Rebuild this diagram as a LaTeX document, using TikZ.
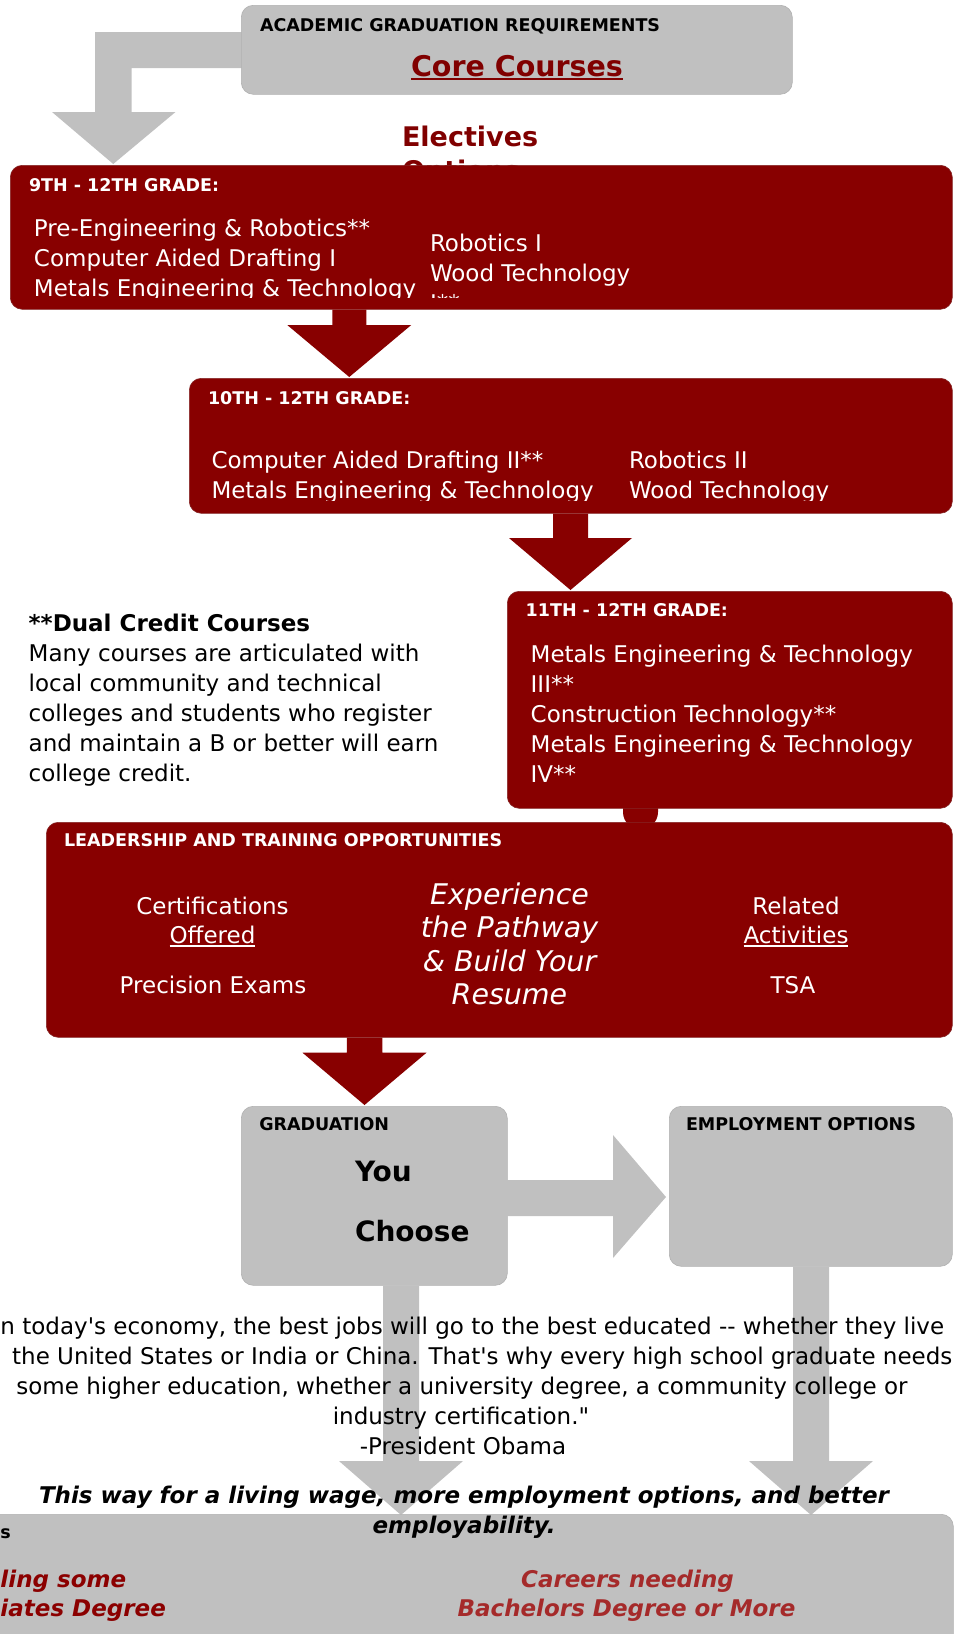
\documentclass[tikz,border=0pt]{standalone}
\usepackage{fontspec}
\setmainfont{DejaVu Sans}
\newfontfamily\qfont{DejaVu Sans}
\usetikzlibrary{calc}
\definecolor{dred}{HTML}{880000}
\definecolor{sgray}{HTML}{C0C0C0}
\definecolor{tred}{HTML}{800000}
\definecolor{bred}{HTML}{A52A2A}
\definecolor{ared}{HTML}{8B0000}
\newcommand\fsz[2]{\fontsize{#1}{#2}\selectfont}
% #1 style, #2 start coord, #3 tip coord, #4 shaft half width, #5 head half width, #6 head length
\newcommand\blkdown[6]{%
  \fill[#1] ($#2+(-#4,0)$) -- ($#3+(-#4,-#6)$) -- ($#3+(-#5,-#6)$) -- #3 -- ($#3+(#5,-#6)$) -- ($#3+(#4,-#6)$) -- ($#2+(#4,0)$) -- cycle;}
\begin{document}
\begin{tikzpicture}[x=1pt,y=-1pt,
  redbox/.style={fill=dred, rounded corners=12pt, draw=dred!70!gray, line width=0.6pt, inner sep=0pt, anchor=north west},
  graybox/.style={fill=sgray, rounded corners=12pt, draw=sgray!92!black, line width=0.6pt, inner sep=0pt, anchor=north west},
  txt/.style={inner sep=0pt, outer sep=0pt, anchor=base west},
  hdr/.style={txt, font=\fsz{17.5}{21}\bfseries},
  body/.style={txt, font=\fsz{23}{30}},
  quote/.style={txt, font=\fsz{23}{30}\qfont},
  wbody/.style={body, text=white},
  whdr/.style={hdr, text=white},
  lead/.style={txt, anchor=base, font=\fsz{23}{30}, text=white},
  ital/.style={txt, anchor=base, font=\fsz{28.5}{33}\itshape, text=white},
  redarrow/.style={fill=dred},
  grayarrow/.style={fill=sgray}
]
\useasboundingbox (0,0) rectangle (956,1634);

% ---------- top: academic requirements ----------
\fill[grayarrow] (250,32) -- (95,32) -- (95,112) -- (52,112) -- (113.25,164) -- (175.5,112) -- (131.5,112) -- (131.5,68) -- (250,68) -- cycle;
\node[graybox, minimum width=551pt, minimum height=89pt] (top) at (241,5) {};
\node[hdr] (acad) at (260,31.5) {ACADEMIC GRADUATION REQUIREMENTS};
\node[txt, anchor=base, font=\fsz{28.5}{34}\bfseries, text=tred] (core) at (517,76) {Core Courses};
\draw[tred, line width=2pt] ($(core.base west)+(0,2.8)$) -- ($(core.base east)+(0,2.8)$);

\node[txt, font=\fsz{27}{33}\bfseries, text=tred] (elec) at (402,146) {Electives};
\node[txt, font=\fsz{27}{33}\bfseries, text=tred] (opts) at (402,180) {Options};

% ---------- 9th - 12th ----------
\node[redbox, minimum width=942pt, minimum height=144pt] (b1) at (10,165) {};
\node[whdr] (h1) at (29,191) {9TH - 12TH GRADE:};
\begin{scope}
  \clip (10,165) rectangle (952,297);
  \node[wbody] (c11) at (34,236) {Pre-Engineering \& Robotics**};
  \node[wbody] (c12) at (34,266) {Computer Aided Drafting I};
  \node[wbody] (c13) at (34,296) {Metals Engineering \& Technology};
  \node[wbody] (c14) at (430,251) {Robotics I};
  \node[wbody] (c15) at (430,281) {Wood Technology};
  \node[wbody] (c16) at (430,311) {I**};
\end{scope}

% arrow 1 -> 2
\coordinate (x1) at (349.25,0);
\coordinate (a1s) at (b1.south -| x1);
\coordinate (a1t) at (349.25,377);
\blkdown{redarrow}{(a1s)}{(a1t)}{17}{62}{52}

% ---------- 10th - 12th ----------
\node[redbox, minimum width=763pt, minimum height=135pt] (b2) at (189,378) {};
\node[whdr] (h2) at (208,404) {10TH - 12TH GRADE:};
\begin{scope}
  \clip (189,378) rectangle (952,500);
  \node[wbody] (c21) at (211.5,468.7) {Computer Aided Drafting II**};
  \node[wbody] (c22) at (211.5,498.7) {Metals Engineering \& Technology};
  \node[wbody] (c23) at (629,468.7) {Robotics II};
  \node[wbody] (c24) at (629,498.7) {Wood Technology};
\end{scope}

% arrow 2 -> 3
\coordinate (x2) at (570.5,0);
\coordinate (a2s) at (b2.south -| x2);
\coordinate (a2t) at (570.5,590);
\blkdown{redarrow}{(a2s)}{(a2t)}{17.5}{61.5}{52}

% ---------- dual credit ----------
\node[txt, font=\fsz{23}{30}\bfseries] (dc) at (28.7,631.7) {**Dual Credit Courses};
\node[body] (d1) at (28.7,661.7) {Many courses are articulated with};
\node[body] (d2) at (28.7,691.7) {local community and technical};
\node[body] (d3) at (28.7,721.7) {colleges and students who register};
\node[body] (d4) at (28.7,751.7) {and maintain a B or better will earn};
\node[body] (d5) at (28.7,781.7) {college credit.};

% ---------- 11th - 12th ----------
\fill[dred] (623,800) -- (623,812) .. controls (623,834) and (658,834) .. (658,812) -- (658,800) -- cycle;
\node[redbox, minimum width=445pt, minimum height=217pt] (b3) at (507,591) {};
\node[whdr] (h3) at (525.7,616.7) {11TH - 12TH GRADE:};
\node[wbody] (c31) at (530.7,662.7) {Metals Engineering \& Technology};
\node[wbody] (c32) at (530.7,692.7) {III**};
\node[wbody] (c33) at (530.7,722.7) {Construction Technology**};
\node[wbody] (c34) at (530.7,752.7) {Metals Engineering \& Technology};
\node[wbody] (c35) at (530.7,782.7) {IV**};

% ---------- leadership ----------
\node[redbox, minimum width=906pt, minimum height=215pt] (b4) at (46,822) {};
\node[whdr] (h4) at (64,846.7) {LEADERSHIP AND TRAINING OPPORTUNITIES};
\node[lead] (l1) at (212.5,914) {Certifications};
\node[lead] (l2) at (212.5,943.3) {Offered};
\draw[white, line width=1.3pt] ($(l2.base west)+(0,2.6)$) -- ($(l2.base east)+(0,2.6)$);
\node[lead] (l3) at (213,993.3) {Precision Exams};
\node[ital] (e1) at (509.5,904.3) {Experience};
\node[ital] (e2) at (509.5,937.6) {the Pathway};
\node[ital] (e3) at (509.5,971) {\& Build Your};
\node[ital] (e4) at (509.5,1004.3) {Resume};
\node[lead] (r1) at (796,914) {Related};
\node[lead] (r2) at (796,943.3) {Activities};
\draw[white, line width=1.3pt] ($(r2.base west)+(0,2.6)$) -- ($(r2.base east)+(0,2.6)$);
\node[lead] (r3) at (793,993.3) {TSA};

% arrow 4 -> 5
\coordinate (x4) at (364.5,0);
\coordinate (a4s) at (b4.south -| x4);
\coordinate (a4t) at (364.5,1105);
\blkdown{redarrow}{(a4s)}{(a4t)}{17.75}{62}{52.3}

% ---------- graduation / employment ----------
\node[graybox, minimum width=266pt, minimum height=179pt] (b5) at (241,1106) {};
\node[graybox, minimum width=283pt, minimum height=160pt] (b6) at (669,1106) {};
% arrow 5 -> 6
\coordinate (g5) at (b5.east |- 0,1198);
\coordinate (g6) at (666,1197);
\fill[grayarrow] ($(g5)+(-2,-18)$) -- ($(g6)+(-53,-17)$) -- ($(g6)+(-53,-62)$) -- (g6) -- ($(g6)+(-53,61)$) -- ($(g6)+(-53,19)$) -- ($(g5)+(-2,18)$) -- cycle;
\node[hdr] (h5) at (259.3,1130.7) {GRADUATION};
\node[txt, font=\fsz{28}{34}\bfseries] (you) at (355,1181.7) {You};
\node[txt, font=\fsz{28}{34}\bfseries] (choose) at (355,1241.7) {Choose};
\node[hdr] (h6) at (686,1130.7) {EMPLOYMENT OPTIONS};

% down arrows
\coordinate (x5) at (401,0);
\coordinate (a5s) at (b5.south -| x5);
\coordinate (a5t) at (401,1515);
\blkdown{grayarrow}{(a5s)}{(a5t)}{18}{62}{54}
\coordinate (x6) at (811,0);
\coordinate (a6s) at (b6.south -| x6);
\coordinate (a6t) at (811,1515);
\blkdown{grayarrow}{(a6s)}{(a6t)}{18}{62}{54}

% ---------- quote ----------
\node[quote] (q1) at (0.5,1334) {n today's economy, the best jobs will go to the best educated -- whether they live};
\node[quote] (q2) at (12.2,1364) {the United States or India or China. That's why every high school graduate needs};
\node[quote, anchor=base] (q3) at (462,1394) {some higher education, whether a university degree, a community college or};
\node[quote, anchor=base] (q4) at (461,1424) {industry certification."};
\node[quote, anchor=base] (q5) at (463,1454) {-President Obama};

% ---------- bottom ----------
\node[graybox, minimum width=973pt, minimum height=150pt] (b7) at (-20,1514) {};
\node[txt, anchor=base, font=\fsz{23}{30}\bfseries\itshape] (w1) at (464,1503) {This way for a living wage, more employment options, and better};
\node[txt, anchor=base, font=\fsz{23}{30}\bfseries\itshape] (w2) at (464,1533) {employability.};
\node[hdr] (s1) at (0.3,1538) {s};
\node[txt, font=\fsz{23}{29}\bfseries\itshape, text=ared] (k1) at (0.5,1587) {ling some};
\node[txt, font=\fsz{23}{29}\bfseries\itshape, text=ared] (k2) at (0.5,1616) {iates Degree};
\node[txt, anchor=base, font=\fsz{23}{29}\bfseries\itshape, text=bred] (k3) at (627.5,1587) {Careers needing};
\node[txt, anchor=base, font=\fsz{23}{29}\bfseries\itshape, text=bred] (k4) at (626.5,1616) {Bachelors Degree or More};
\end{tikzpicture}
\end{document}
